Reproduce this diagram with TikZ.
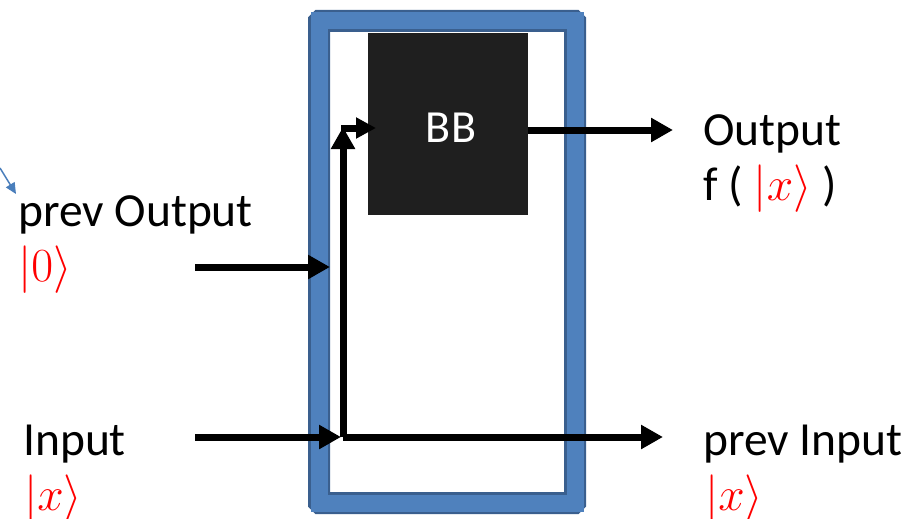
\documentclass[tikz,border=0pt]{standalone}
\usepackage{fix-cm}
\usepackage{fontspec}
\setmainfont{Carlito}
\usetikzlibrary{arrows.meta}
\definecolor{frameedge}{HTML}{3A5F8E}
\definecolor{framefill}{HTML}{4F81BD}
\definecolor{boxfill}{HTML}{1F1F1F}
\definecolor{ketred}{HTML}{FF0000}
\definecolor{pointer}{HTML}{4A7EBB}
\tikzset{
  label/.style={anchor=base west, inner sep=0pt, font=\fontsize{47.5}{56}\selectfont},
  ket/.style={label, text=ketred},
  wire/.style={line width=7pt, -{Triangle[length=22pt,width=23pt]}},
  smallwire/.style={line width=7pt, -{Triangle[length=20pt,width=20pt]}},
}
\begin{document}
\begin{tikzpicture}[x=1pt,y=-1pt]
\useasboundingbox (0,0) rectangle (910,519);
% outer blue frame
\draw[frameedge, line width=22pt, rounded corners=1pt] (319,21) rectangle (575,503);
\draw[framefill, line width=17pt] (319,21) rectangle (575,503);
% black box
\node[fill=boxfill, minimum width=160pt, minimum height=182pt, inner sep=0pt, anchor=north west] (bb) at (368,33) {};
\node[text=white, font=\fontsize{46}{54}\selectfont, inner sep=0pt, anchor=base] (bbtext) at (451,142) {BB};
% labels
\node[label] (prevout) at (18,226) {prev Output};
\node[ket] (zero) at (18,281) {$\vert 0\rangle$};
\node[label] (input) at (23,455) {Input};
\node[ket] (xin) at (24,510) {$\vert x\rangle$};
\node[label] (output) at (703,145) {Output};
\node[label] (fx) at (703,200) {f ( \textcolor{ketred}{$\vert x\rangle$} )};
\node[label] (previn) at (703,455) {prev Input};
\node[ket] (xout) at (705,510) {$\vert x\rangle$};
% wire end points
\coordinate (a0) at (195,267);
\coordinate (a1) at (330,267);
\coordinate (b0) at (195,437);
\coordinate (b1) at (341,437);
\coordinate (junc) at (343,437);
\coordinate (c1) at (663,437);
\coordinate (up) at (343,127);
\coordinate (turn) at (341,128);
\coordinate (bbin) at (376,128);
\coordinate (o0) at (528,130);
\coordinate (o1) at (673,130);
\coordinate (p0) at (0,168);
\coordinate (p1) at (16,194);
% wires
\draw[wire] (a0) -- (a1);
\draw[wire] (junc) -- (c1);
\draw[wire] (junc) -- (up);
\draw[smallwire] (turn) -- (bbin);
\draw[wire] (b0) -- (b1);
\draw[wire] (o0) -- (o1);
\draw[pointer, line width=1.5pt, -{Triangle[length=11pt,width=10pt]}] (p0) -- (p1);
\end{tikzpicture}
\end{document}
